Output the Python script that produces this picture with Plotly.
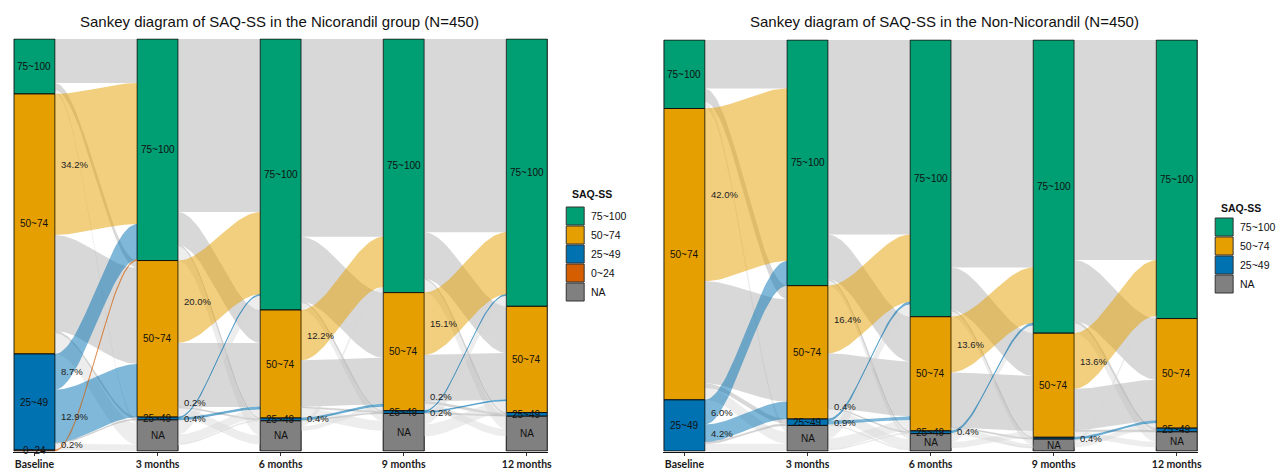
import numpy as np
import plotly.graph_objects as go

W, H = 1276, 470

# ---------------- data ----------------
categories = ["75~100", "50~74", "25~49", "0~24", "NA"]
timepoints = ["Baseline", "3 months", "6 months", "9 months", "12 months"]
legend_title = "SAQ-SS"

# transition counts: rows = source stratum, cols = destination stratum (order as categories)
nic_title = "Sankey diagram of SAQ-SS in the Nicorandil group (N=450)"
nic_base_to_3m = [[48, 8, 0, 0, 4],
                  [154, 105, 2, 0, 23],
                  [39, 58, 1, 0, 7],
                  [1, 0, 0, 0, 0],
                  [0, 0, 0, 0, 0]]
nic_3m_to_6m = [[189, 36, 1, 0, 16],
                [90, 70, 1, 0, 10],
                [1, 2, 0, 0, 0],
                [0, 0, 0, 0, 0],
                [16, 10, 1, 0, 7]]
nic_6m_to_9m = [[216, 71, 1, 0, 8],
                [55, 51, 1, 0, 11],
                [0, 2, 1, 0, 0],
                [0, 0, 0, 0, 0],
                [6, 5, 0, 0, 22]]
nic_9m_to_12m = [[211, 51, 1, 0, 14],
                 [68, 51, 2, 0, 8],
                 [1, 1, 1, 0, 0],
                 [0, 0, 0, 0, 0],
                 [12, 13, 0, 0, 16]]

non_title = "Sankey diagram of SAQ-SS in the Non-Nicorandil (N=450)"
non_base_to_3m = [[53, 15, 0, 0, 7],
                  [189, 112, 5, 0, 13],
                  [27, 19, 2, 0, 8],
                  [0, 0, 0, 0, 0],
                  [0, 0, 0, 0, 0]]
non_3m_to_6m = [[213, 49, 1, 0, 6],
                [74, 60, 1, 0, 11],
                [2, 4, 0, 0, 1],
                [0, 0, 0, 0, 0],
                [14, 12, 1, 0, 1]]
non_6m_to_9m = [[249, 47, 1, 0, 6],
                [61, 60, 1, 0, 3],
                [2, 0, 0, 0, 1],
                [0, 0, 0, 0, 0],
                [9, 7, 0, 0, 3]]
non_9m_to_12m = [[241, 67, 2, 0, 11],
                 [61, 45, 2, 0, 6],
                 [0, 2, 0, 0, 0],
                 [0, 0, 0, 0, 0],
                 [3, 6, 0, 0, 4]]

# ---------------- style ----------------
bar_colors = {"75~100": "#009E73", "50~74": "#E69F00", "25~49": "#0072B2",
              "0~24": "#D55E00", "NA": "#808080"}
flow_rgb = {"50~74": (230, 159, 0), "25~49": (0, 114, 178), "0~24": (213, 94, 0)}
GRAY = "rgba(178,178,178,0.5)"
LIGHT = "rgba(214,214,214,0.45)"
FONT = "Liberation Sans, Arial, sans-serif"
BOLD_FONT = "Lato, Liberation Sans, sans-serif"

panels = [
    dict(title=nic_title, mats=[nic_base_to_3m, nic_3m_to_6m, nic_6m_to_9m, nic_9m_to_12m],
         px=(14, 549, 39, 451), title_x=280, legend=(568, 194, 207)),
    dict(title=non_title, mats=[non_base_to_3m, non_3m_to_6m, non_6m_to_9m, non_9m_to_12m],
         px=(666, 1201, 40, 451), title_x=947, legend=(1219, 208, 218)),
]

BW = 1.0 / 3.0
PAD = 0.006

fig = go.Figure()
annotations = []
shapes = []


def tops_of(counts):
    out, acc = [], 0
    for c in counts:
        out.append(acc)
        acc += c
    return out


def smooth(t):
    return t * t * (3 - 2 * t)


for p, pnl in enumerate(panels):
    xa = "x" if p == 0 else "x2"
    ya = "y" if p == 0 else "y2"
    mats = [np.array(m) for m in pnl["mats"]]
    counts = [mats[0].sum(axis=1)] + [m.sum(axis=0) for m in mats]
    N = int(counts[0].sum())
    x0, x1, y0, y1 = pnl["px"]
    ppu_y = (y1 - y0) / N

    # ---- flows ----
    gray_traces, col_traces, labels = [], [], []
    for i, M in enumerate(mats):
        s_tops = tops_of(counts[i])
        d_tops = tops_of(counts[i + 1])
        s_off = [0] * 5
        d_off = [0] * 5
        seg_s, seg_d = {}, {}
        for s in range(5):
            for d in range(5):
                v = M[s][d]
                if v > 0:
                    seg_s[(s, d)] = (s_tops[s] + s_off[s], s_tops[s] + s_off[s] + v)
                    s_off[s] += v
        for d in range(5):
            for s in range(5):
                v = M[s][d]
                if v > 0:
                    seg_d[(s, d)] = (d_tops[d] + d_off[d], d_tops[d] + d_off[d] + v)
                    d_off[d] += v
        xs0 = (i + 1) + BW / 2
        xs1 = (i + 2) - BW / 2
        t = np.linspace(0, 1, 40)
        xx = xs0 + (xs1 - xs0) * t
        ss = smooth(t)
        int_labels = []
        for (s, d), (a0, a1) in seg_s.items():
            b0, b1 = seg_d[(s, d)]
            if s == 4 and d == 4:
                continue
            top = a0 + (b0 - a0) * ss
            bot = a1 + (b1 - a1) * ss
            px_ = np.concatenate([xx, xx[::-1], xx[:1]])
            py_ = np.concatenate([top, bot[::-1], top[:1]])
            v = M[s][d]
            improve = (d < s) and s != 4 and d != 4
            if improve:
                r, g, b = flow_rgb[categories[s]]
                fc = f"rgba({r},{g},{b},0.5)"
                lw = 0.9 if v <= 3 else 0
                lc = f"rgba({r},{g},{b},0.45)"
                col_traces.append(go.Scatter(x=px_, y=py_, mode="lines", fill="toself", fillcolor=fc,
                                             line=dict(width=lw, color=lc), hoverinfo="skip",
                                             showlegend=False, xaxis=xa, yaxis=ya))
                int_labels.append([(a0 + a1) / 2.0, f"{100.0 * v / N:.1f}%", xs0])
            else:
                fc = LIGHT if (d == 4 or s == 4) else GRAY
                lw = 0.6 if v <= 3 else 0
                gray_traces.append(go.Scatter(x=px_, y=py_, mode="lines", fill="toself", fillcolor=fc,
                                              line=dict(width=lw, color=fc), hoverinfo="skip",
                                              showlegend=False, xaxis=xa, yaxis=ya))
        # simple vertical repel of labels within an interval
        int_labels.sort(key=lambda z: -z[0])
        gap = 16.0 / ppu_y
        lim = N - 6.5 / ppu_y
        for k, lab in enumerate(int_labels):
            lab[0] = min(lab[0], lim)
            if k > 0 and int_labels[k - 1][0] - lab[0] < gap:
                lab[0] = int_labels[k - 1][0] - gap
        labels.extend(int_labels)

    for tr in gray_traces + col_traces:
        fig.add_trace(tr)

    # ---- stacked bars (strata) ----
    strat_labels = {j: [] for j in range(5)}
    for c, cat in enumerate(categories):
        xs, ys, bs = [], [], []
        for j in range(5):
            v = counts[j][c]
            if v > 0:
                xs.append(j + 1)
                ys.append(v)
                bs.append(tops_of(counts[j])[c])
                strat_labels[j].append((bs[-1] + v / 2.0, v, cat))
        if not xs:
            continue
        fig.add_trace(go.Bar(x=xs, y=ys, base=bs, width=BW, xaxis=xa, yaxis=ya,
                             marker=dict(color=bar_colors[cat], line=dict(color="#111111", width=1)),
                             showlegend=False, hoverinfo="skip"))
    for j in range(5):
        labs = strat_labels[j]
        keep = [True] * len(labs)
        for k in range(len(labs) - 1):
            if (labs[k + 1][0] - labs[k][0]) * ppu_y < 8.5:
                if labs[k][1] < labs[k + 1][1]:
                    keep[k] = False
                else:
                    keep[k + 1] = False
        for (yc, v, cat), kp in zip(labs, keep):
            if not kp:
                continue
            annotations.append(dict(x=j + 1, y=yc, xref=xa, yref=ya, text=cat, showarrow=False,
                                    font=dict(family=FONT, size=10, color="#111111"),
                                    xanchor="center", yanchor="middle"))

    for yv, txt, xv in labels:
        annotations.append(dict(x=xv + 0.03, y=yv, xref=xa, yref=ya, text=txt, showarrow=False,
                                font=dict(family=FONT, size=9.5, color="#222222"),
                                xanchor="left", yanchor="middle"))

    # ---- axes ----
    span = 4 + 2 * (BW / 2)
    ppu_x = (x1 - x0) / span
    xdom = [(x0 - PAD * ppu_x) / W, (x1 + PAD * ppu_x) / W]
    ypad = 0.6
    ydom = [1 - (y1 + ypad * ppu_y) / H, 1 - (y0 - ypad * ppu_y) / H]
    xkey = "xaxis" if p == 0 else "xaxis2"
    ykey = "yaxis" if p == 0 else "yaxis2"
    fig.update_layout(**{
        xkey: dict(domain=xdom, range=[1 - BW / 2 - PAD, 5 + BW / 2 + PAD], anchor=ya,
                   tickvals=[1, 2, 3, 4, 5], ticktext=timepoints, showgrid=False, zeroline=False,
                   showline=True, linecolor="#111111", linewidth=1, ticks="outside", ticklen=3,
                   tickcolor="#333333", tickwidth=1,
                   tickfont=dict(family=BOLD_FONT, size=10.5, color="#1a1a1a", weight="bold"),
                   fixedrange=True),
        ykey: dict(domain=ydom, range=[N + ypad, -ypad], anchor=xa, visible=False,
                   showgrid=False, zeroline=False, fixedrange=True),
    })

    # ---- title ----
    annotations.append(dict(x=pnl["title_x"] / W, y=1 - 22 / H, xref="paper", yref="paper",
                            text=pnl["title"], showarrow=False, xanchor="center", yanchor="middle",
                            font=dict(family=FONT, size=15, color="#111111")))

    # ---- legend (drawn) ----
    lx, lty, lky = pnl["legend"]
    annotations.append(dict(x=(lx + 4) / W, y=1 - lty / H, xref="paper", yref="paper",
                            text="<b>" + legend_title + "</b>", showarrow=False,
                            xanchor="left", yanchor="middle",
                            font=dict(family=FONT, size=10.5, color="#111111")))
    present = [c for c in range(5) if sum(cn[c] for cn in counts) > 0]
    for k, c in enumerate(present):
        ky0 = lky + k * 19
        shapes.append(dict(type="rect", xref="paper", yref="paper",
                           x0=lx / W, x1=(lx + 18) / W, y0=1 - (ky0 + 18) / H, y1=1 - ky0 / H,
                           fillcolor=bar_colors[categories[c]], line=dict(color="#333333", width=1)))
        annotations.append(dict(x=(lx + 23) / W, y=1 - (ky0 + 9) / H, xref="paper", yref="paper",
                                text=categories[c], showarrow=False, xanchor="left", yanchor="middle",
                                font=dict(family=FONT, size=10.5, color="#111111")))

fig.update_layout(width=W, height=H, autosize=False, margin=dict(l=0, r=0, t=0, b=0),
                  paper_bgcolor="white", plot_bgcolor="white", barmode="overlay",
                  showlegend=False, annotations=annotations, shapes=shapes)

fig.write_html("out.html")
